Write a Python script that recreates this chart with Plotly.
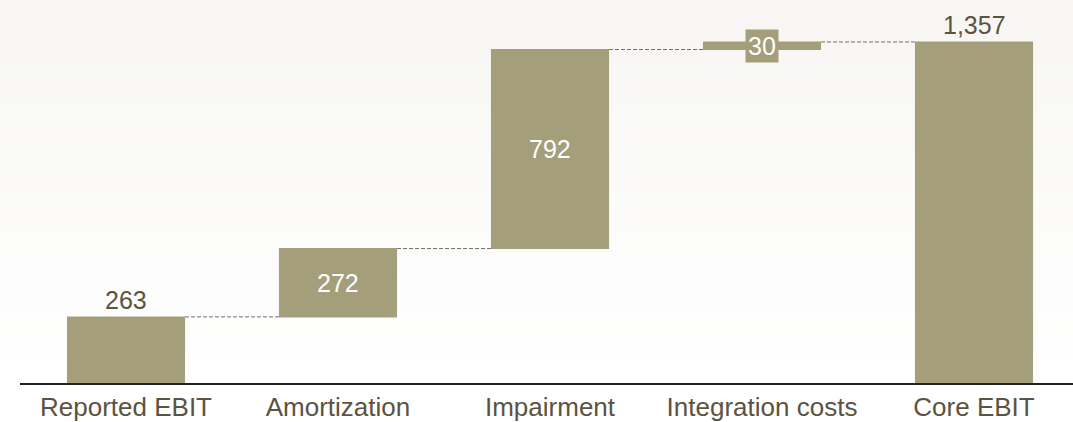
import plotly.graph_objects as go

categories = ["Reported EBIT", "Amortization", "Impairment", "Integration costs", "Core EBIT"]
values = [263, 272, 792, 30, 1357]
measures = ["absolute", "relative", "relative", "relative", "total"]
label_text = ["263", "272", "792", "30", "1,357"]

BAR = "#A59E7A"
TXT = "#5B5340"
FONT = "Liberation Sans, Arial"

fig = go.Figure()
fig.add_trace(go.Waterfall(
    x=categories, y=values, measure=measures,
    increasing=dict(marker=dict(color=BAR)),
    decreasing=dict(marker=dict(color=BAR)),
    totals=dict(marker=dict(color=BAR)),
    connector=dict(mode="between", line=dict(color="#6E6E6E", width=1, dash="4px,2px")),
    width=[0.557] * len(values),
    textposition="none",
    hoverinfo="skip",
))

# labels derived from cumulative values
cum = 0
for i, (c, v, m, t) in enumerate(zip(categories, values, measures, label_text)):
    if m == "absolute":
        base, top = 0, v
        cum = v
    elif m == "total":
        base, top = 0, cum
    else:
        base, top = cum, cum + v
        cum = top
    if m in ("absolute", "total"):
        fig.add_annotation(x=c, y=top, text=t, showarrow=False, yanchor="bottom", yshift=1,
                           font=dict(size=25, color=TXT, family=FONT))
    elif v < 100:
        fig.add_annotation(x=c, y=(base + top) / 2, text=t, showarrow=False, yanchor="middle",
                           bgcolor=BAR, borderpad=2,
                           font=dict(size=25, color="white", family=FONT))
    else:
        fig.add_annotation(x=c, y=(base + top) / 2, text=t, showarrow=False, yanchor="middle",
                           font=dict(size=25, color="white", family=FONT))

# subtle background gradient (top slightly grey to white)
n = 40
shapes = []
for k in range(n):
    f = k / (n - 1)
    r = round(247 + (255 - 247) * f)
    g = round(246 + (255 - 246) * f)
    b = round(243 + (255 - 243) * f)
    shapes.append(dict(type="rect", xref="paper", yref="paper", x0=-0.05, x1=1.05,
                       y0=1 - (k + 1) / n, y1=1 - k / n + 0.001,
                       fillcolor=f"rgb({r},{g},{b})", line=dict(width=0), layer="below"))

fig.update_layout(
    width=1073, height=422,
    margin=dict(l=20, r=0, t=0, b=39, autoexpand=False),
    paper_bgcolor="white", plot_bgcolor="rgba(0,0,0,0)",
    showlegend=False,
    shapes=shapes,
    font=dict(family=FONT, color=TXT),
    xaxis=dict(range=[-0.5, 4.467], showline=True, linecolor="#222222", linewidth=2,
               showgrid=False, ticks="", tickfont=dict(size=26, color=TXT), fixedrange=True,
               automargin=False),
    yaxis=dict(range=[0, 1524], visible=False, showgrid=False, zeroline=False, fixedrange=True),
)

fig.write_html("out.html", config={"displayModeBar": False},
               post_script="document.body.style.margin='0';document.body.style.overflow='hidden';")
